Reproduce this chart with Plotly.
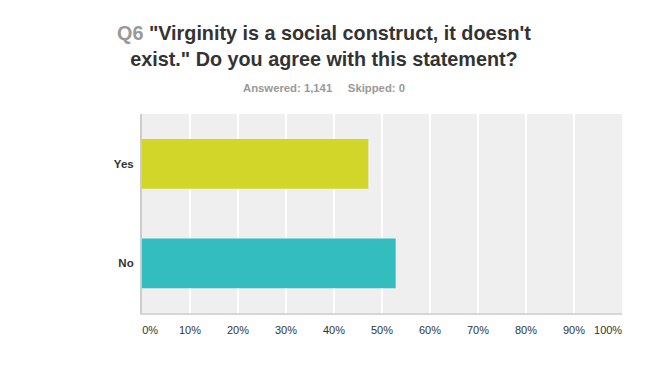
import plotly.graph_objects as go

categories = ["Yes", "No"]
values = [47.15, 52.85]
bar_colors = ["#d1d628", "#33bdbf"]
tick_vals = [0, 10, 20, 30, 40, 50, 60, 70, 80, 90, 100]
tick_text = [f"{v}%" for v in tick_vals]

W, H = 650, 387
L, R, T, B = 142, 28, 114, 74

fig = go.Figure()
fig.add_trace(go.Bar(
    y=categories, x=values, orientation="h",
    marker=dict(color=bar_colors, line=dict(width=0)),
    width=0.5, hoverinfo="x+y",
))
# invisible trace so the label axis (x2) is drawn
fig.add_trace(go.Scatter(x=[0, 100], y=categories, xaxis="x2", mode="markers",
                         marker=dict(opacity=0), hoverinfo="skip", showlegend=False))

pw = W - L - R
ph = H - T - B


def px_x(x):
    return (x - L) / pw


def px_y(y):
    return (H - B - y) / ph


# edge labels are justified inward (kept inside the plot width)
label_pos = list(tick_vals)
label_pos[0] = tick_vals[0] + 1.7
label_pos[-1] = tick_vals[-1] - 2.9

fig.update_layout(
    width=W, height=H,
    margin=dict(l=L, r=R, t=T, b=B, autoexpand=False),
    paper_bgcolor="white", plot_bgcolor="#efefef",
    showlegend=False,
    font=dict(family="Liberation Sans, Arial, sans-serif", color="#333333"),
    xaxis=dict(
        range=[0, 100], tickvals=tick_vals, showticklabels=False,
        showgrid=True, gridcolor="white", gridwidth=1.5,
        zeroline=False, showline=True, linecolor="#d6d6d6", linewidth=2,
        ticks="", fixedrange=True, automargin=False,
    ),
    xaxis2=dict(
        range=[0, 100], overlaying="x", side="bottom", anchor="y",
        tickvals=label_pos, ticktext=tick_text,
        showgrid=False, zeroline=False, showline=False, ticks="",
        tickfont=dict(size=11, color="#333333"), ticklabelstandoff=9,
        fixedrange=True, automargin=False,
    ),
    yaxis=dict(
        categoryorder="array", categoryarray=categories, autorange="reversed",
        showgrid=False, zeroline=False, showline=True, linecolor="#cccccc", linewidth=2,
        ticks="", tickfont=dict(size=11.5, color="#333333", weight="bold"),
        ticklabelstandoff=4, fixedrange=True, automargin=False,
    ),
    annotations=[
        dict(
            text="<b><span style='color:#999999'>Q6</span> \"Virginity is a social construct, it doesn't<br>exist.\" Do you agree with this statement?</b>",
            x=px_x(324), y=px_y(20), xref="paper", yref="paper", showarrow=False,
            xanchor="center", yanchor="top",
            font=dict(size=19.8, color="#333333"), align="center",
        ),
        dict(
            text="<b>Answered: 1,141&nbsp;&nbsp;&nbsp;&nbsp; Skipped: 0</b>",
            x=px_x(324), y=px_y(80), xref="paper", yref="paper", showarrow=False,
            xanchor="center", yanchor="top",
            font=dict(size=11.3, color="#999999"),
        ),
    ],
)

fig.write_html(
    "out.html",
    config={"displayModeBar": False},
    post_script="document.body.style.margin='0';document.body.style.overflow='hidden';",
)
